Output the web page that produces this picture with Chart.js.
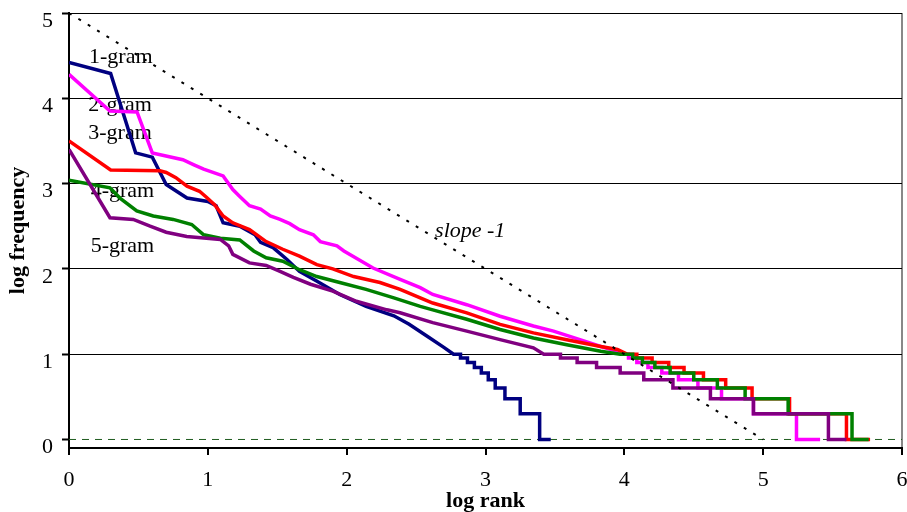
<!DOCTYPE html>
<html lang="en">
<head>
<meta charset="UTF-8">
<title>log rank vs log frequency</title>
<script src="https://cdn.jsdelivr.net/npm/chart.js@4.4.1/dist/chart.umd.min.js"></script>
<style>
  html, body { margin: 0; padding: 0; background: #fff; }
  #wrap { width: 907px; height: 512px; position: relative; }
</style>
</head>
<body>
<div id="wrap"><canvas id="zipfChart"></canvas></div>
<script>
// log10 rank / log10 frequency (tails are the integer-count steps)
const rank1 = [0, 0.30, 0.48, 0.60, 0.70, 0.85, 1.00, 1.06, 1.11, 1.23, 1.34, 1.38, 1.47, 1.57, 1.66, 1.78, 1.95, 2.14, 2.34, 2.45,
               2.58, 2.70, 2.77, 2.82, 2.82, 2.87, 2.87, 2.92, 2.92, 2.97, 2.97, 3.02, 3.02, 3.07, 3.07, 3.14, 3.14, 3.25, 3.25, 3.39, 3.39, 3.47];
const freq1 = [4.42, 4.29, 3.36, 3.31, 2.99, 2.83, 2.79, 2.74, 2.54, 2.50, 2.40, 2.31, 2.25, 2.11, 1.97, 1.86, 1.70, 1.56, 1.45, 1.35,
               1.21, 1.08, 1.0, 1.0, 0.954, 0.954, 0.903, 0.903, 0.845, 0.845, 0.778, 0.778, 0.699, 0.699, 0.602, 0.602, 0.477, 0.477, 0.301, 0.301, 0, 0];

const rank2 = [0, 0.295, 0.49, 0.60, 0.82, 0.90, 0.97, 1.11, 1.18, 1.23, 1.30, 1.38, 1.45, 1.52, 1.59, 1.66, 1.76, 1.81, 1.93, 1.98,
               2.19, 2.385, 2.53, 2.62, 2.865, 3.105, 3.345, 3.49, 3.68, 3.83, 3.95, 3.98, 4.03, 4.03, 4.09, 4.09, 4.17, 4.17, 4.27, 4.27,
               4.39, 4.39, 4.53, 4.53, 4.70, 4.70, 4.93, 4.93, 5.24, 5.24, 5.41];
const freq2 = [4.28, 3.85, 3.84, 3.36, 3.28, 3.22, 3.17, 3.09, 2.93, 2.85, 2.74, 2.70, 2.62, 2.58, 2.53, 2.46, 2.40, 2.32, 2.27, 2.21,
               2.01, 1.876, 1.78, 1.70, 1.58, 1.445, 1.33, 1.27, 1.17, 1.09, 1.035, 1.0, 1.0, 0.954, 0.954, 0.903, 0.903, 0.845, 0.845, 0.778,
               0.778, 0.699, 0.699, 0.602, 0.602, 0.477, 0.477, 0.301, 0.301, 0, 0];

const rank3 = [0, 0.30, 0.655, 0.70, 0.77, 0.85, 0.94, 0.99, 1.05, 1.11, 1.18, 1.30, 1.42, 1.54, 1.66, 1.785, 1.90, 2.05, 2.24, 2.385,
               2.53, 2.62, 2.865, 3.105, 3.345, 3.585, 3.83, 3.95, 4.02, 4.09, 4.09, 4.20, 4.20, 4.32, 4.32, 4.43, 4.43, 4.57, 4.57, 4.73,
               4.73, 4.92, 4.92, 5.19, 5.19, 5.60, 5.60, 5.77];
const freq3 = [3.50, 3.16, 3.15, 3.13, 3.07, 2.97, 2.91, 2.84, 2.75, 2.62, 2.54, 2.46, 2.32, 2.23, 2.15, 2.05, 2.00, 1.91, 1.84, 1.76,
               1.66, 1.60, 1.485, 1.35, 1.25, 1.17, 1.09, 1.055, 1.0, 1.0, 0.954, 0.954, 0.903, 0.903, 0.845, 0.845, 0.778, 0.778, 0.699, 0.699,
               0.602, 0.602, 0.477, 0.477, 0.301, 0.301, 0, 0];

const rank4 = [0, 0.295, 0.367, 0.488, 0.607, 0.75, 0.884, 0.97, 1.09, 1.23, 1.33, 1.42, 1.54, 1.66, 1.785, 1.95, 2.14, 2.34, 2.53, 2.62,
               2.865, 3.105, 3.345, 3.585, 3.83, 3.97, 4.06, 4.06, 4.13, 4.13, 4.22, 4.22, 4.33, 4.33, 4.50, 4.50, 4.67, 4.67, 4.87, 4.87,
               5.18, 5.18, 5.64, 5.64, 5.76];
const freq4 = [3.04, 2.95, 2.83, 2.68, 2.62, 2.58, 2.52, 2.40, 2.36, 2.34, 2.21, 2.13, 2.09, 1.99, 1.91, 1.84, 1.76, 1.66, 1.56, 1.52,
               1.41, 1.29, 1.19, 1.11, 1.035, 1.0, 1.0, 0.954, 0.954, 0.903, 0.903, 0.845, 0.845, 0.778, 0.778, 0.699, 0.699, 0.602, 0.602, 0.477,
               0.477, 0.301, 0.301, 0, 0];

const rank5 = [0, 0.295, 0.463, 0.584, 0.70, 0.848, 0.99, 1.09, 1.15, 1.18, 1.30, 1.42, 1.52, 1.616, 1.74, 1.90, 2.07, 2.29, 2.385, 2.62,
               2.865, 3.105, 3.345, 3.42, 3.54, 3.54, 3.66, 3.66, 3.80, 3.80, 3.97, 3.97, 4.14, 4.14, 4.35, 4.35, 4.62, 4.62, 4.93, 4.93,
               5.47, 5.47, 5.60];
const freq5 = [3.40, 2.60, 2.58, 2.50, 2.43, 2.38, 2.36, 2.345, 2.27, 2.17, 2.07, 2.04, 1.97, 1.90, 1.82, 1.74, 1.62, 1.52, 1.485, 1.37,
               1.27, 1.17, 1.075, 1.0, 1.0, 0.954, 0.954, 0.903, 0.903, 0.845, 0.845, 0.778, 0.778, 0.699, 0.699, 0.602, 0.602, 0.477, 0.477, 0.301,
               0.301, 0, 0];

const seriesNames = ['1-gram', '2-gram', '3-gram', '4-gram', '5-gram'];
const seriesColors = ['#000080', '#FF00FF', '#FF0000', '#008000', '#800080'];
const ranks = [rank1, rank2, rank3, rank4, rank5];
const freqs = [freq1, freq2, freq3, freq4, freq5];

// reference lines
const slopeX = [0, 5];
const slopeY = [5, 0];
const zeroX = [0, 6];
const zeroY = [0, 0];

const yTicks = [0, 1, 2, 3, 4, 5];

// text labels placed in data units (baseline)
const noteText = ['1-gram', '2-gram', '3-gram', '4-gram', '5-gram', 'slope -1'];
const noteX = [0.144, 0.139, 0.139, 0.156, 0.156, 2.637];
const noteY = [4.41, 3.85, 3.525, 2.845, 2.196, 2.376];
const noteItalic = [false, false, false, false, false, true];

function pairs(xs, ys) {
    return xs.map((v, i) => ({ x: v, y: ys[i] }));
}

const datasets = seriesNames.map((name, i) => ({
    label: name,
    data: pairs(ranks[i], freqs[i]),
    borderColor: seriesColors[i],
    borderWidth: 3.5,
    pointRadius: 0,
    showLine: true,
    tension: 0,
    order: 5 - i
}));

datasets.push({
    label: 'slope -1',
    data: pairs(slopeX, slopeY),
    borderColor: '#000',
    borderWidth: 2,
    borderDash: [3, 8],
    pointRadius: 0,
    showLine: true,
    order: 0
});
datasets.push({
    label: 'zero',
    data: pairs(zeroX, zeroY),
    borderColor: '#1f5c1f',
    borderWidth: 1,
    borderDash: [7, 6],
    pointRadius: 0,
    showLine: true,
    order: 10
});

const notesPlugin = {
    id: 'notes',
    beforeDatasetsDraw(chart) {
        const { ctx, scales: { x, y } } = chart;
        ctx.save();
        ctx.fillStyle = '#000';
        ctx.textBaseline = 'alphabetic';
        ctx.textAlign = 'left';
        noteText.forEach((t, i) => {
            ctx.font = (noteItalic[i] ? 'italic ' : '') + '22px "Liberation Serif"';
            ctx.fillText(t, x.getPixelForValue(noteX[i]), y.getPixelForValue(noteY[i]));
        });
        ctx.restore();
    }
};

const tickFont = { family: '"Liberation Serif", "Times New Roman", serif', size: 22, lineHeight: 1 };
const titleFont = { family: '"Liberation Serif", "Times New Roman", serif', size: 22, weight: 'bold', lineHeight: 1 };

new Chart(document.getElementById('zipfChart'), {
    type: 'scatter',
    data: { datasets: datasets },
    plugins: [notesPlugin],
    options: {
        responsive: true,
        maintainAspectRatio: false,
        animation: false,
        layout: { padding: { top: 13, right: 5, left: 0, bottom: 0 } },
        plugins: {
            legend: { display: false },
            tooltip: { enabled: false }
        },
        scales: {
            x: {
                type: 'linear',
                min: 0,
                max: 6,
                afterFit: s => { s.height = 64; s.paddingLeft = 0; s.paddingRight = 0; },
                ticks: { stepSize: 1, color: '#000', font: tickFont, padding: 14, maxRotation: 0 },
                grid: {
                    color: c => (c.tick && c.tick.value === 6) ? '#888' : 'rgba(0,0,0,0)',
                    lineWidth: 2,
                    tickColor: '#000',
                    tickLength: 7,
                    tickWidth: 2
                },
                border: { color: '#000', width: 2 },
                title: { display: true, text: 'log rank', color: '#000', font: titleFont, padding: { top: 0, bottom: 0 } }
            },
            y: {
                type: 'linear',
                min: -0.1,
                max: 5,
                afterBuildTicks: s => { s.ticks = yTicks.map(v => ({ value: v })); },
                afterFit: s => { s.width = 69; s.paddingTop = 0; s.paddingBottom = 0; },
                ticks: { color: '#000', font: tickFont, padding: 9, labelOffset: 8 },
                grid: {
                    color: c => (c.tick && c.tick.value === 0) ? 'rgba(0,0,0,0)' : '#000',
                    lineWidth: 1,
                    tickColor: '#000',
                    tickLength: 7,
                    tickWidth: 2
                },
                border: { color: '#000', width: 2 },
                title: { display: true, text: 'log frequency', color: '#000', font: titleFont, padding: { top: 7, bottom: 0 } }
            }
        }
    }
});
</script>
</body>
</html>
